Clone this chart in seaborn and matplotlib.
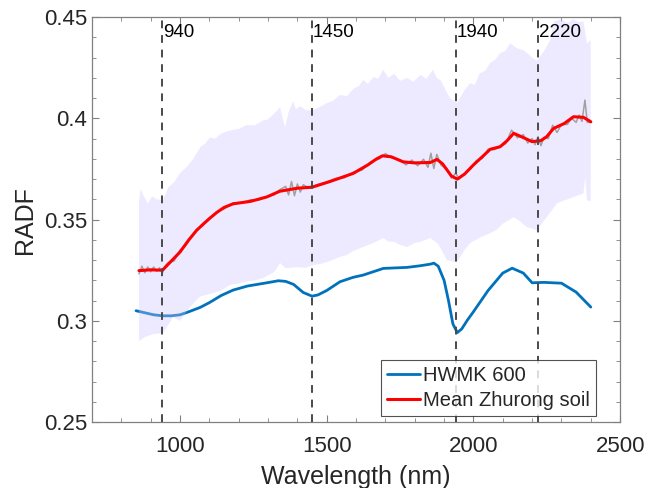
import matplotlib
matplotlib.use("Agg")
import matplotlib.pyplot as plt
import seaborn as sns
import numpy as np
import pandas as pd

# ---------------- data ----------------
blue_wl = [850, 880, 910, 940, 970, 1000, 1030, 1068, 1100, 1140, 1181, 1230, 1296, 1335, 1360,
           1387, 1420, 1450, 1470, 1500, 1545, 1590, 1624, 1693, 1774, 1818, 1853, 1865, 1880, 1900,
           1915, 1930, 1945, 1960, 1980, 2000, 2050, 2100, 2132, 2170, 2200, 2240, 2300, 2350, 2400]
blue_val = [0.3050, 0.3040, 0.3030, 0.3025, 0.3025, 0.3030, 0.3045, 0.3066, 0.3090, 0.3125, 0.3152,
            0.3172, 0.3188, 0.3198, 0.3195, 0.3180, 0.3140, 0.3122, 0.3128, 0.3150, 0.3193, 0.3215,
            0.3226, 0.3259, 0.3264, 0.3272, 0.3280, 0.3285, 0.3270, 0.3200, 0.3100, 0.2985, 0.2942,
            0.2960, 0.3005, 0.3045, 0.3150, 0.3236, 0.3260, 0.3236, 0.3188, 0.3190, 0.3186, 0.3142,
            0.3068]

red_wl = [860, 900, 940, 960, 1000, 1030, 1057, 1100, 1125, 1150, 1181, 1240, 1296, 1340, 1400, 1450,
          1511, 1590, 1640, 1670, 1690, 1720, 1761, 1800, 1853, 1876, 1895, 1910, 1925, 1945, 1970,
          2000, 2030, 2057, 2091, 2115, 2137, 2170, 2200, 2230, 2250, 2273, 2310, 2341, 2375, 2400]
red_val = [0.3248, 0.3252, 0.3250, 0.3280, 0.3340, 0.3400, 0.3448, 0.3505, 0.3535, 0.3560, 0.3578,
           0.3590, 0.3612, 0.3640, 0.3655, 0.3660, 0.3688, 0.3728, 0.3770, 0.3800, 0.3815, 0.3810,
           0.3785, 0.3780, 0.3782, 0.3797, 0.3775, 0.3745, 0.3715, 0.3700, 0.3725, 0.3770, 0.3810,
           0.3847, 0.3860, 0.3890, 0.3926, 0.3905, 0.3885, 0.3890, 0.3910, 0.3950, 0.3975, 0.4008,
           0.4005, 0.3983]

grey_wl = [860, 870, 880, 890, 900, 910, 920, 930, 940, 950, 960, 980, 1000, 1020, 1040, 1057, 1080,
           1100, 1125, 1150, 1181, 1210, 1240, 1270, 1296, 1320, 1340, 1360, 1370, 1380, 1390, 1400,
           1410, 1420, 1440, 1470, 1500, 1530, 1560, 1590, 1620, 1650, 1680, 1700, 1720, 1750, 1770,
           1790, 1810, 1830, 1845, 1855, 1865, 1875, 1890, 1910, 1925, 1940, 1950, 1970, 1990, 2010,
           2030, 2050, 2070, 2090, 2110, 2130, 2150, 2170, 2185, 2200, 2210, 2220, 2230, 2240, 2255,
           2270, 2285, 2300, 2320, 2335, 2350, 2360, 2370, 2380, 2388, 2400]
grey_val = [0.3232, 0.3270, 0.3238, 0.3266, 0.3242, 0.3266, 0.3245, 0.3262, 0.3238, 0.3272, 0.3288,
            0.3296, 0.3350, 0.3375, 0.3415, 0.3446, 0.3484, 0.3506, 0.3538, 0.3552, 0.3583, 0.3582,
            0.3598, 0.3597, 0.3614, 0.3622, 0.3648, 0.3664, 0.3622, 0.3688, 0.3618, 0.3676, 0.3636,
            0.3672, 0.3656, 0.3674, 0.3686, 0.3704, 0.3706, 0.3734, 0.3744, 0.3785, 0.3800, 0.3826,
            0.3806, 0.3795, 0.3770, 0.3794, 0.3766, 0.3798, 0.3758, 0.3828, 0.3752, 0.3822, 0.3768,
            0.3750, 0.3705, 0.3730, 0.3700, 0.3726, 0.3750, 0.3792, 0.3802, 0.3848, 0.3845, 0.3860,
            0.3875, 0.3942, 0.3904, 0.3920, 0.3878, 0.3900, 0.3870, 0.3910, 0.3865, 0.3905, 0.3900,
            0.3966, 0.3930, 0.3970, 0.3970, 0.4000, 0.3980, 0.4016, 0.3985, 0.4090, 0.3980, 0.3980]

upper_wl = [860, 865, 875, 890, 905, 920, 942, 960, 980, 1000, 1020, 1045, 1070, 1085, 1102, 1120,
            1140, 1170, 1200, 1228, 1255, 1283, 1300, 1320, 1341, 1350, 1358, 1370, 1385, 1395, 1409,
            1430, 1450, 1475, 1500, 1520, 1545, 1570, 1590, 1610, 1624, 1640, 1660, 1675, 1693, 1710,
            1730, 1750, 1774, 1795, 1820, 1840, 1862, 1875, 1890, 1905, 1920, 1944, 1970, 1989, 2005,
            2020, 2040, 2057, 2075, 2090, 2110, 2125, 2150, 2170, 2185, 2200, 2216, 2240, 2262, 2275,
            2300, 2320, 2340, 2360, 2375, 2387, 2400]
upper_val = [0.3590, 0.3650, 0.3620, 0.3580, 0.3615, 0.3600, 0.3596, 0.3660, 0.3685, 0.3730, 0.3755,
             0.3800, 0.3860, 0.3875, 0.3905, 0.3900, 0.3925, 0.3940, 0.3948, 0.3967, 0.3965, 0.3990,
             0.3995, 0.4022, 0.4055, 0.4000, 0.3955, 0.4030, 0.4085, 0.4045, 0.4060, 0.4040, 0.4040,
             0.4055, 0.4075, 0.4085, 0.4115, 0.4110, 0.4145, 0.4160, 0.4190, 0.4170, 0.4205, 0.4195,
             0.4240, 0.4200, 0.4220, 0.4185, 0.4200, 0.4180, 0.4215, 0.4195, 0.4240, 0.4200, 0.4185,
             0.4140, 0.4100, 0.4075, 0.4140, 0.4174, 0.4165, 0.4220, 0.4235, 0.4273, 0.4290, 0.4320,
             0.4335, 0.4370, 0.4345, 0.4337, 0.4320, 0.4300, 0.4285, 0.4330, 0.4386, 0.4480, 0.4490,
             0.4470, 0.4490, 0.4475, 0.4480, 0.4370, 0.4386]

lower_wl = [860, 880, 910, 942, 960, 976, 1000, 1020, 1034, 1068, 1113, 1140, 1170, 1200, 1230, 1255,
            1283, 1320, 1341, 1360, 1398, 1430, 1450, 1475, 1500, 1520, 1545, 1570, 1590, 1624, 1660,
            1693, 1710, 1730, 1750, 1774, 1800, 1820, 1853, 1880, 1910, 1944, 1970, 1989, 2020, 2057,
            2080, 2100, 2137, 2160, 2182, 2216, 2250, 2285, 2310, 2341, 2375, 2381, 2387, 2400]
lower_val = [0.2900, 0.2920, 0.2935, 0.2940, 0.2980, 0.3019, 0.3000, 0.3040, 0.3068, 0.3120, 0.3137,
             0.3150, 0.3177, 0.3185, 0.3195, 0.3200, 0.3211, 0.3240, 0.3285, 0.3260, 0.3265, 0.3262,
             0.3275, 0.3280, 0.3290, 0.3300, 0.3316, 0.3325, 0.3345, 0.3365, 0.3385, 0.3409, 0.3392,
             0.3390, 0.3375, 0.3365, 0.3385, 0.3390, 0.3409, 0.3380, 0.3300, 0.3290, 0.3350, 0.3384,
             0.3410, 0.3433, 0.3450, 0.3480, 0.3512, 0.3490, 0.3463, 0.3448, 0.3512, 0.3580, 0.3595,
             0.3611, 0.3630, 0.3710, 0.3596, 0.3590]

band_lines = [940, 1450, 1940, 2220]
band_labels = ["940", "1450", "1940", "2220"]
series_names = ["HWMK 600", "Mean Zhurong soil"]

# ---------------- style ----------------
sns.set_theme(style="ticks")
plt.rcParams["font.family"] = ["Liberation Sans", "DejaVu Sans"]

fig = plt.figure(figsize=(6.48, 4.88), dpi=100)
ax = fig.add_axes([0.142, 0.135, 0.815, 0.830])

blue_c = "#0072BD"

df_blue = pd.DataFrame({"wl": blue_wl, "v": blue_val})
df_red = pd.DataFrame({"wl": red_wl, "v": red_val})
df_grey = pd.DataFrame({"wl": grey_wl, "v": grey_val})

sns.lineplot(data=df_blue, x="wl", y="v", ax=ax, color=blue_c, lw=2.0, zorder=2,
             label=series_names[0], sort=False)

# shaded range (drawn over the blue line with transparency)
poly_x = list(upper_wl) + list(lower_wl[::-1])
poly_y = list(upper_val) + list(lower_val[::-1])
ax.fill(poly_x, poly_y, color=(0.8, 0.77, 1.0), alpha=0.35, lw=0, zorder=3)

sns.lineplot(data=df_grey, x="wl", y="v", ax=ax, color="#a0a0a0", lw=1.1, zorder=4,
             sort=False, legend=False)
sns.lineplot(data=df_red, x="wl", y="v", ax=ax, color="#FF0000", lw=2.2, zorder=5,
             label=series_names[1], sort=False)

for xv, lab in zip(band_lines, band_labels):
    ax.axvline(xv, color="#4a4a4a", lw=1.4, ls=(0, (4.0, 3.5)), zorder=6)
    ax.text(xv + 2, 0.4425, lab, fontsize=13.5, color="black", ha="left", va="center", zorder=7)

ax.set_xlim(700, 2500)
ax.set_ylim(0.25, 0.45)
ax.set_xticks([1000, 1500, 2000, 2500])
ax.set_yticks([0.25, 0.3, 0.35, 0.4, 0.45])
ax.set_yticklabels(["0.25", "0.3", "0.35", "0.4", "0.45"])
ax.set_xticks(np.arange(700, 2501, 100), minor=True)
ax.set_yticks(np.arange(0.25, 0.4501, 0.01), minor=True)
ax.tick_params(which="both", direction="in", top=True, right=True, colors="#808080",
               labelcolor="#262626", labelsize=16)
ax.tick_params(which="major", length=5, width=0.8)
ax.tick_params(which="minor", length=3, width=0.6)
ax.tick_params(axis="x", which="major", pad=10)
for s in ax.spines.values():
    s.set_color("#808080")
    s.set_linewidth(0.9)

ax.set_xlabel("Wavelength (nm)", fontsize=18, color="#262626", labelpad=6)
ax.set_ylabel("RADF", fontsize=18, color="#262626", labelpad=5)

leg = ax.legend(loc="lower right", fontsize=14.5, frameon=True, fancybox=False,
                handlelength=1.6, handletextpad=0.15, borderpad=0.3, labelspacing=0.3,
                borderaxespad=0.3, bbox_to_anchor=(0.965, 0.0))
leg.get_frame().set_edgecolor("#262626")
leg.get_frame().set_linewidth(0.8)
leg.set_zorder(10)

fig.savefig("out.png", dpi=100)
